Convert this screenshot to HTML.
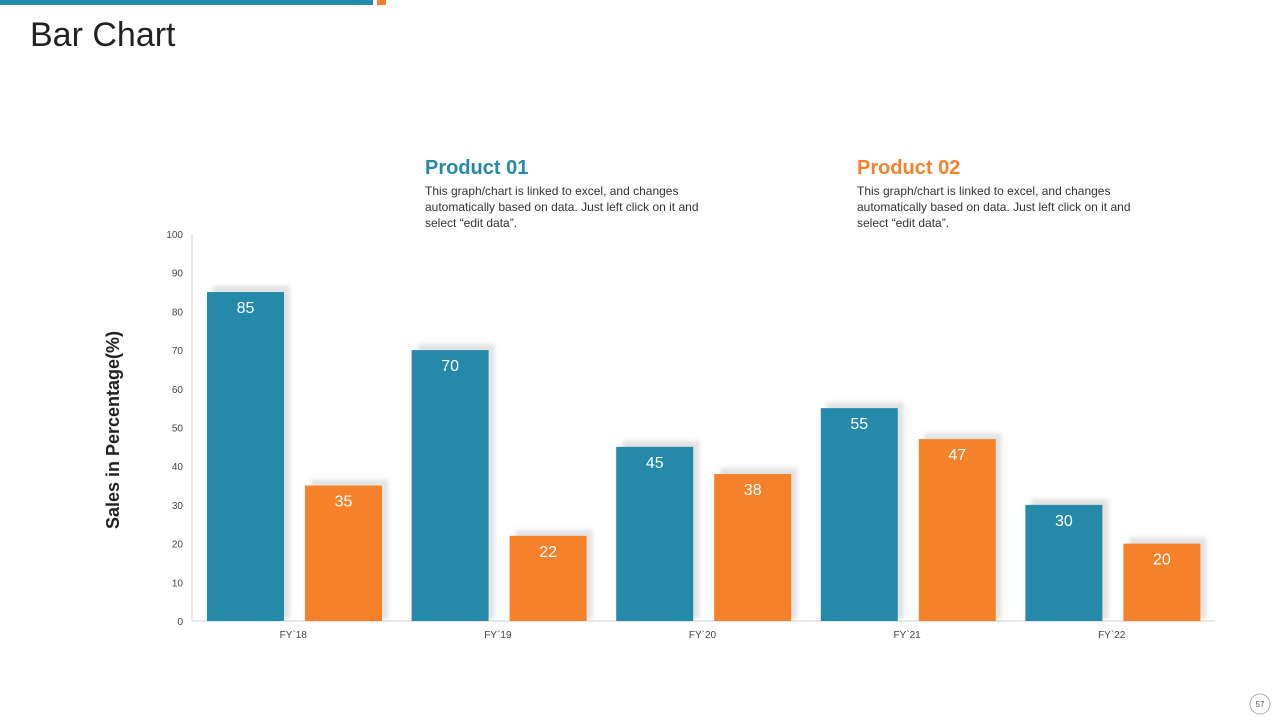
<!DOCTYPE html>
<html><head><meta charset="utf-8"><style>
body{margin:0;width:1280px;height:720px;background:#fff;font-family:"Liberation Sans",sans-serif;position:relative;overflow:hidden}
.abs{position:absolute}
.ptitle{font-size:20px;font-weight:bold}
.pdesc{font-size:12px;color:#333;line-height:16px;width:305px;margin-top:3px}
</style></head><body>
<div class="abs" style="left:0;top:0;width:373px;height:5px;background:#2589aa"></div>
<div class="abs" style="left:377px;top:0;width:9px;height:5px;background:#f5822a"></div>
<div class="abs" style="left:30px;top:16px;font-size:34px;color:#222">Bar Chart</div>
<div class="abs" style="left:425px;top:157px">
<div class="ptitle" style="color:#2589aa">Product 01</div>
<div class="pdesc">This graph/chart is linked to excel, and changes automatically based on data. Just left click on it and select “edit data”.</div></div>
<div class="abs" style="left:857px;top:157px">
<div class="ptitle" style="color:#f5822a">Product 02</div>
<div class="pdesc">This graph/chart is linked to excel, and changes automatically based on data. Just left click on it and select “edit data”.</div></div>
<svg class="abs" style="left:0;top:0" width="1280" height="720">
<defs><filter id="bl"><feGaussianBlur stdDeviation="2"/></filter></defs>
<g id="g"></g>
<text transform="translate(119,430) rotate(-90)" text-anchor="middle" font-size="18" font-weight="bold" fill="#222" font-family="Liberation Sans, sans-serif">Sales in Percentage(%)</text>
<circle cx="1260" cy="704" r="10" fill="none" stroke="#aaa" stroke-width="1"/>
<text x="1260" y="707" text-anchor="middle" font-size="8" fill="#555">57</text>
</svg>
<script>
const categories=["FY`18","FY`19","FY`20","FY`21","FY`22"];
const product1=[85,70,45,55,30];
const product2=[35,22,38,47,20];
const yTicks=[0,10,20,30,40,50,60,70,80,90,100];
const X0=192,X1=1215,Y0=621,Y100=234;
const ys=v=>Y0-(Y0-Y100)*v/100;
const cw=(X1-X0)/categories.length;
const g=document.getElementById('g');
const NS='http://www.w3.org/2000/svg';
function mk(t,a){const e=document.createElementNS(NS,t);for(const k in a)e.setAttribute(k,a[k]);g.appendChild(e);return e;}
yTicks.forEach(v=>{const t=mk('text',{x:183,y:ys(v)+4,'text-anchor':'end','font-size':10,fill:'#444'});t.textContent=v;

});
const ax=mk('line',{x1:X0,y1:Y100,x2:X0,y2:Y0,stroke:'#d0d0d0'});


const bx=mk('line',{x1:X0,y1:Y0,x2:X1,y2:Y0,stroke:'#d0d0d0'});


categories.forEach((c,i)=>{
 const cx0=X0+i*cw;
 [[product1[i],15,'#2589aa','bar-product-01'],[product2[i],113,'#f5822a','bar-product-02']].forEach(([v,off,col,nm])=>{
  const x=cx0+off,y=ys(v),w=77;
  mk('rect',{x:x+6,y:y-6,width:w,height:Y0-y+4,fill:'#cfcfcf',opacity:0.6,filter:'url(#bl)'});
  const r=mk('rect',{x:x,y:y,width:w,height:Y0-y,fill:col});
  
  
  const t=mk('text',{x:x+w/2,y:y+21,'text-anchor':'middle','font-size':16,fill:'#fff'});t.textContent=v;
  
  
 });
 const l=mk('text',{x:cx0+cw/2-1,y:638,'text-anchor':'middle','font-size':10,fill:'#444'});l.textContent=c;
 
 
});
</script>
</body></html>
